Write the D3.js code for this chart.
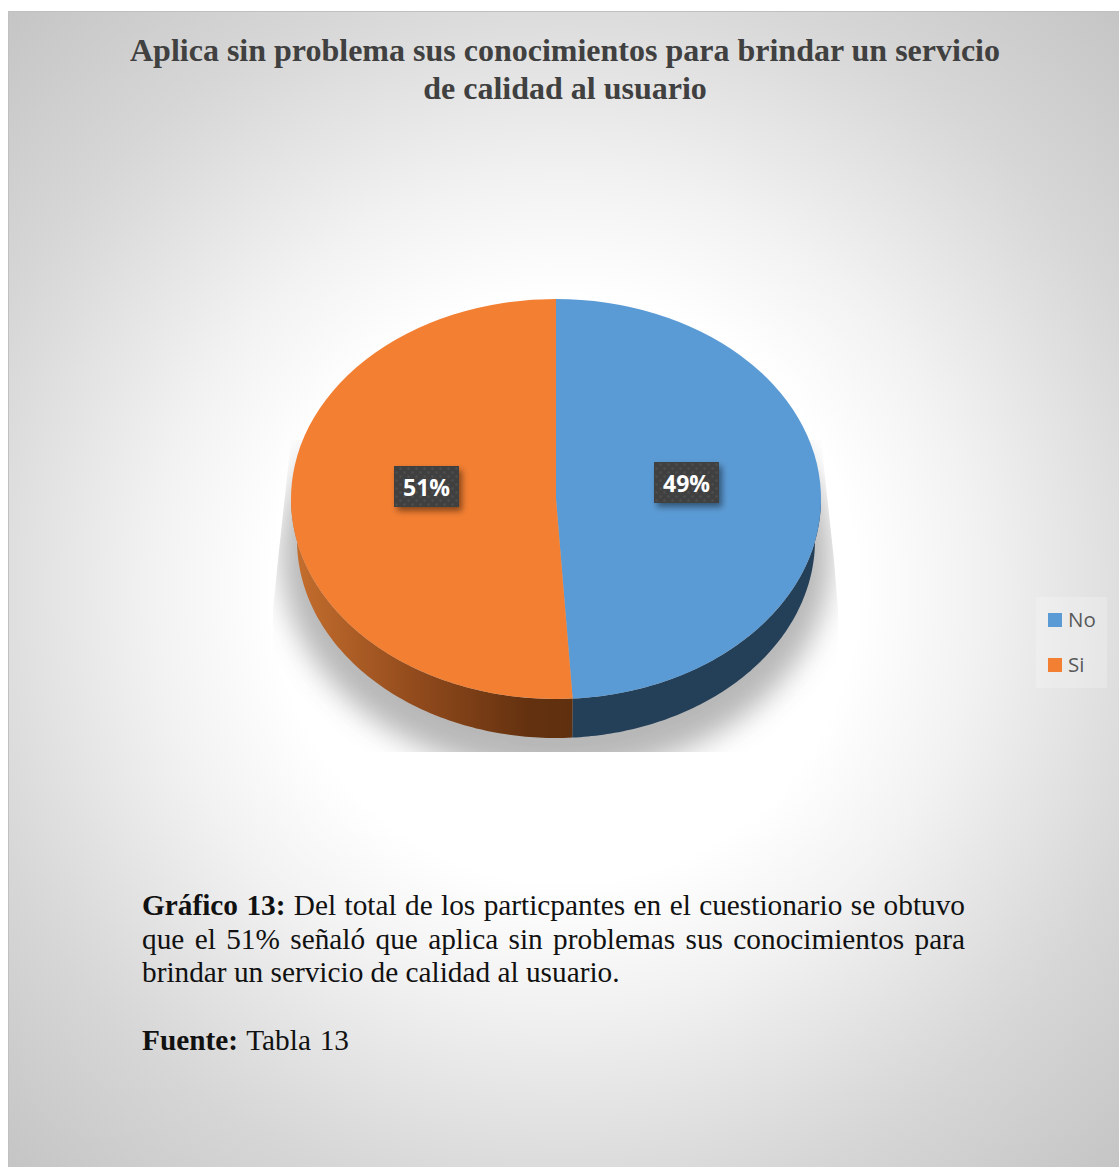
<!DOCTYPE html>
<html><head><meta charset="utf-8">
<script src="https://cdn.jsdelivr.net/npm/d3@7/dist/d3.min.js"></script>
<style>html,body{margin:0;padding:0;background:#fff}svg{display:block}</style>
</head><body><svg id="chart" width="1119" height="1167"></svg>
<script>
const categories = ["No", "Si"];
const seriesValues = [49, 51];
const sliceColors = ["#5b9bd5", "#f37f32"];
const titleLines = ["Aplica sin problema sus conocimientos para brindar un servicio", "de calidad al usuario"];
const noteLines = [
  [["Gráfico 13:", true], [" Del total de los particpantes en el cuestionario se obtuvo", false]],
  [["que el 51% señaló que aplica sin problemas sus conocimientos para", false]],
  [["brindar un servicio de calidad al usuario.", false]]
];
const sourceLine = [["Fuente:", true], [" Tabla 13", false]];

const svg = d3.select("#chart");
const defs = svg.append("defs");

// Panel background
const bg = defs.append("radialGradient").attr("id", "panelBg")
  .attr("gradientUnits", "userSpaceOnUse")
  .attr("cx", 565).attr("cy", 590).attr("r", 810);
[[0, "#ffffff"], [0.36, "#ffffff"], [0.51, "#f2f2f2"], [0.6, "#e8e8e8"], [0.71, "#dcdcdc"], [0.77, "#d6d6d6"], [1, "#c4c4c4"]]
  .forEach(([o, c]) => bg.append("stop").attr("offset", o).attr("stop-color", c));
svg.append("rect").attr("x", 8).attr("y", 11).attr("width", 1111).attr("height", 1156)
  .attr("fill", "url(#panelBg)");
// Thin darker rule along the panel's top and left edges
svg.append("path").attr("d", d3.line()([[8.5, 1167], [8.5, 11.5], [1119, 11.5]]))
  .attr("fill", "none").attr("stroke", "#c0c0c0").attr("stroke-width", 1);

// Pie geometry; the lower rim is a little narrower, as seen in perspective
const cx = 556, cy = 499, rx = 265, ry = 200, depth = 41, lowRx = 259, lowRy = 198;
const pie = d3.pie().sort(null).value(d => d);
const arcs = pie(seriesValues);
const arc = d3.arc().innerRadius(0).outerRadius(rx);
const px = a => cx + rx * Math.sin(a);
const py = a => cy - ry * Math.cos(a);
const lowX = a => cx + lowRx * Math.sin(a);
const lowY = a => cy + depth - lowRy * Math.cos(a);

// Soft shadow, cut off by its rectangular frame
defs.append("filter").attr("id", "pieShadow")
  .attr("x", "-20%").attr("y", "-20%").attr("width", "140%").attr("height", "140%")
  .append("feGaussianBlur").attr("stdDeviation", 14);
defs.append("clipPath").attr("id", "shadowClip").append("polygon")
  .attr("points", [[291,440],[278,560],[273,610],[273,752],[838,752],[838,610],[834,560],[821,440]].join(" "));
svg.append("g").attr("clip-path", "url(#shadowClip)")
  .append("ellipse")
  .attr("cx", cx).attr("cy", cy + depth + 16).attr("rx", rx + 10).attr("ry", ry + 18)
  .attr("fill", "#b0b0b0").attr("opacity", 0.9).attr("filter", "url(#pieShadow)");

// Side wall colours
const wallLeft = defs.append("linearGradient").attr("id", "wallSi")
  .attr("gradientUnits", "userSpaceOnUse")
  .attr("x1", cx - rx).attr("x2", px(arcs[1].startAngle)).attr("y1", 0).attr("y2", 0);
[[0, "#c66f2e"], [0.45, "#914a1c"], [0.85, "#63310f"], [1, "#5f300f"]].forEach(([o, c]) =>
  wallLeft.append("stop").attr("offset", o).attr("stop-color", c));
const wallFill = ["#243f58", "url(#wallSi)"];

// The wall follows the front half of the rim, then comes back along the lower rim
function wallPath(d) {
  const a0 = Math.max(d.startAngle, Math.PI / 2);
  const a1 = Math.min(d.endAngle, 3 * Math.PI / 2);
  if (a1 <= a0) return null;
  const ts = d3.range(0, 101).map(i => a0 + (a1 - a0) * i / 100);
  const top = ts.map(a => [px(a), py(a)]);
  const low = ts.slice().reverse().map(a => [lowX(a), lowY(a)]);
  return d3.line()(top.concat(low)) + "Z";
}
svg.append("g").selectAll("path").data(arcs).join("path")
  .attr("d", wallPath).attr("fill", (d, i) => wallFill[i]);

// Top face
svg.append("g").attr("transform", `translate(${cx},${cy}) scale(1,${ry / rx})`)
  .selectAll("path").data(arcs).join("path")
  .attr("d", arc).attr("fill", (d, i) => sliceColors[i]);

// Data labels on a dotted dark tile
const dots = defs.append("pattern").attr("id", "tileDots").attr("patternUnits", "userSpaceOnUse")
  .attr("width", 8).attr("height", 8);
dots.append("rect").attr("width", 8).attr("height", 8).attr("fill", "#404040");
dots.append("circle").attr("cx", 2).attr("cy", 2).attr("r", 1).attr("fill", "#555555");
dots.append("circle").attr("cx", 6).attr("cy", 6).attr("r", 1).attr("fill", "#555555");
defs.append("filter").attr("id", "tileShadow")
  .attr("x", "-20%").attr("y", "-20%").attr("width", "150%").attr("height", "160%")
  .append("feDropShadow").attr("dx", 3).attr("dy", 4).attr("stdDeviation", 3)
  .attr("flood-color", "#000").attr("flood-opacity", 0.45);
const labelCenters = new Map([["No", [686.5, 482.5]], ["Si", [426.5, 486.5]]]);
const labels = svg.append("g").selectAll("g").data(arcs).join("g")
  .attr("transform", (d, i) => `translate(${labelCenters.get(categories[i])})`);
labels.append("rect").attr("x", -32.5).attr("y", -20.5).attr("width", 65).attr("height", 41)
  .attr("fill", "url(#tileDots)").attr("filter", "url(#tileShadow)");
labels.append("text").attr("text-anchor", "middle").attr("y", 9)
  .attr("font-family", "'Open Sans', sans-serif").attr("font-weight", 700).attr("font-size", 23)
  .attr("fill", "#fff").text(d => d.data + "%");

// Legend
const legend = svg.append("g");
legend.append("rect").attr("x", 1036).attr("y", 597).attr("width", 71).attr("height", 91)
  .attr("fill", "#fff").attr("opacity", 0.22);
const legendY = d3.scalePoint().domain(categories).range([620, 665]);
const item = legend.selectAll("g").data(categories).join("g")
  .attr("transform", d => `translate(1048,${legendY(d)})`);
item.append("rect").attr("y", -7).attr("width", 14).attr("height", 14)
  .attr("fill", (d, i) => sliceColors[i]);
item.append("text").attr("x", 20).attr("y", 7)
  .attr("font-family", "'Open Sans', sans-serif").attr("font-size", 20.5).attr("fill", "#595959").text(d => d);

// Title
svg.append("g").selectAll("text").data(titleLines).join("text")
  .attr("x", 565).attr("y", (d, i) => 61 + i * 37.5).attr("text-anchor", "middle")
  .attr("font-family", "'Liberation Serif', serif").attr("font-weight", 700).attr("font-size", 32)
  .attr("fill", "#404040").text(d => d);

// Caption, first two lines set flush to both margins
function captionLine(parts, y, justifyTo) {
  const t = svg.append("text").attr("x", 142).attr("y", y)
    .attr("font-family", "'Liberation Serif', serif").attr("font-size", 29.3).attr("fill", "#111111")
    .attr("xml:space", "preserve").style("white-space", "pre");
  parts.forEach(([s, b]) => t.append("tspan").attr("font-weight", b ? 700 : 400).text(s));
  if (justifyTo) {
    const gaps = parts.map(p => p[0]).join("").split(" ").length - 1;
    t.attr("word-spacing", (justifyTo - t.node().getComputedTextLength()) / gaps);
  }
}
noteLines.forEach((p, i) => captionLine(p, 915 + i * 33.5, i < 2 ? 823 : null));
captionLine(sourceLine, 1050, 207);
</script></body></html>
